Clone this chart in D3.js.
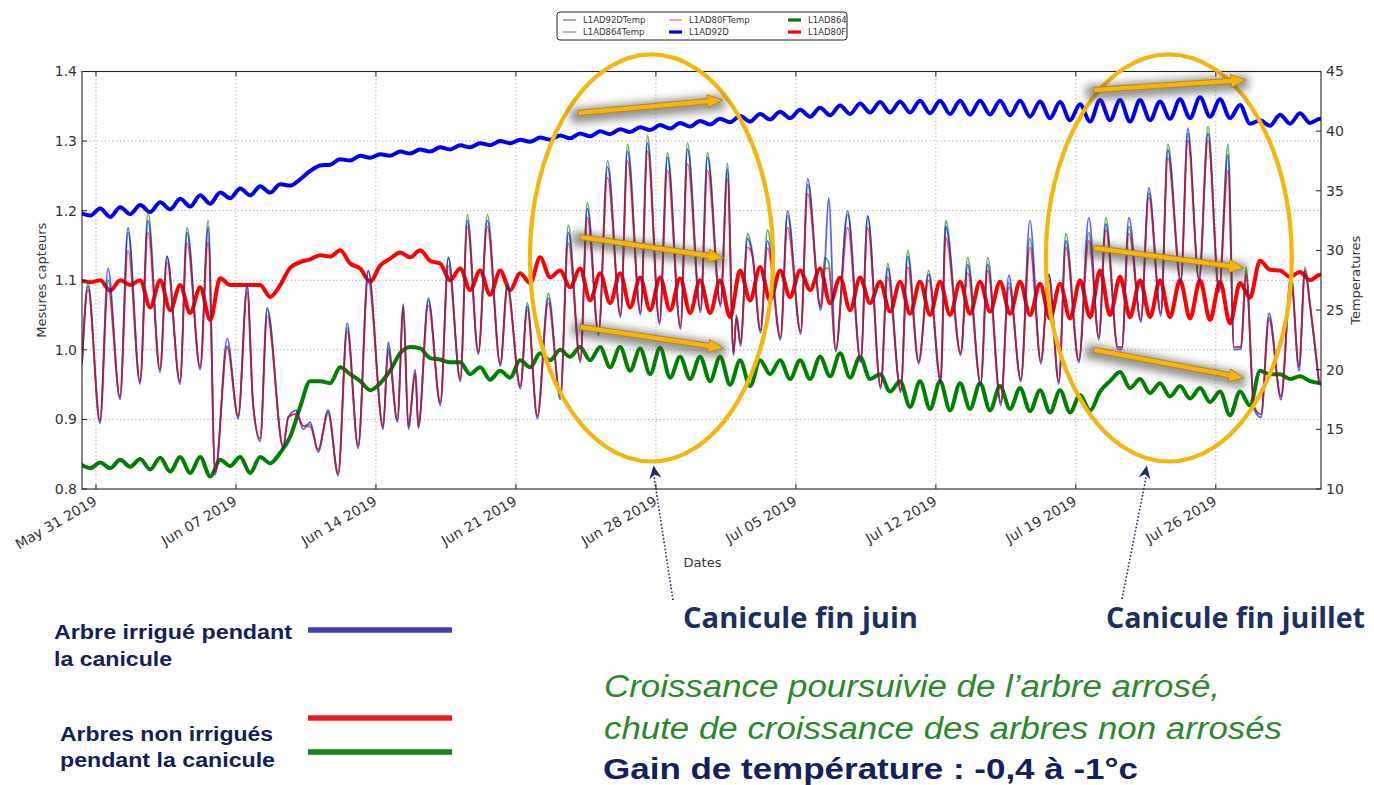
<!DOCTYPE html>
<html>
<head>
<meta charset="utf-8">
<script src="https://cdn.jsdelivr.net/npm/d3@7"></script>
<style>
  html, body { margin: 0; padding: 0; background: #fff; }
  svg { display: block; }
</style>
</head>
<body>
<svg id="chart" width="1374" height="785"></svg>
<script>
// ---------------------------------------------------------------------------
// Temperature loggers: sample times in days since 31 May 2019 00:00, and °C
// ---------------------------------------------------------------------------
const tempDay = [
  -0.70, -0.40, 0.20, 0.60, 1.20, 1.60, 2.20, 2.60, 3.20, 3.55,
  4.20, 4.55, 5.21, 5.61, 5.96, 6.56, 7.11, 7.56, 7.86, 8.21,
  8.56, 9.36, 9.61, 10.01, 10.36, 10.71, 11.11, 11.61, 12.11, 12.56,
  13.11, 13.61, 14.36, 14.61, 15.07, 15.37, 15.62, 15.97, 16.12, 16.62,
  17.22, 17.62, 18.22, 18.57, 19.12, 19.57, 20.22, 20.57, 21.22, 21.57,
  22.07, 22.62, 23.22, 23.62, 24.22, 24.57, 25.13, 25.58, 26.23, 26.58,
  27.23, 27.58, 28.18, 28.58, 29.23, 29.58, 30.23, 30.58, 31.23, 31.58,
  31.88, 32.03, 32.23, 32.58, 32.83, 33.23, 33.58, 34.23, 34.58, 35.24,
  35.59, 36.24, 36.44, 36.64, 36.99, 37.59, 38.24, 38.59, 39.24, 39.59,
  40.24, 40.59, 41.14, 41.64, 42.24, 42.49, 43.24, 43.59, 44.24, 44.59,
  45.25, 45.65, 46.25, 46.70, 47.25, 47.65, 48.15, 48.50, 49.15, 49.65,
  50.15, 50.50, 51.10, 51.30, 51.65, 52.25, 52.65, 53.25, 53.60, 54.25,
  54.60, 55.16, 55.61, 56.16, 56.61, 56.91, 57.26, 57.51, 57.91, 58.26,
  58.66, 59.26, 59.76, 60.16, 60.46, 60.71, 61.16
];
const tempL1AD80F = [
  20.5, 26.7, 15.7, 26.9, 17.7, 30.0, 19.0, 31.5, 20.0, 29.0,
  19.0, 30.6, 20.2, 30.7, 11.4, 21.9, 16.1, 26.5, 17.0, 14.2,
  24.5, 13.6, 16.0, 16.3, 15.3, 15.2, 13.3, 16.3, 11.3, 23.2,
  13.6, 27.5, 15.25, 21.5, 15.8, 25.0, 15.25, 19.7, 15.25, 25.4,
  17.25, 28.7, 19.2, 32.0, 21.5, 32.0, 20.5, 26.7, 18.6, 25.0,
  16.1, 25.6, 17.75, 30.6, 20.8, 32.75, 23.1, 36.1, 24.6, 37.5,
  24.8, 38.3, 24.0, 36.7, 23.6, 37.25, 25.0, 36.7, 25.5, 36.0,
  21.4, 24.4, 22.25, 30.25, 29.5, 23.3, 30.2, 22.7, 31.9, 23.2,
  34.75, 25.25, 28.5, 28.5, 21.7, 31.9, 20.8, 31.9, 18.6, 27.75,
  18.3, 28.6, 20.7, 27.5, 19.2, 31.1, 21.4, 28.1, 18.9, 28.3,
  17.25, 26.9, 19.2, 30.25, 20.7, 27.5, 19.0, 30.25, 20.8, 30.8,
  22.75, 31.7, 21.9, 21.9, 31.4, 24.2, 34.4, 24.75, 37.75, 27.5,
  39.2, 27.6, 39.2, 26.7, 36.7, 21.9, 21.9, 28.2, 16.9, 16.25,
  24.2, 17.75, 27.5, 20.25, 28.3, 25.5, 19.0
];
const tempL1AD92D = [
  20.5, 27.0, 15.5, 28.5, 17.5, 31.9, 18.8, 32.5, 19.8, 29.5,
  18.8, 31.5, 20.0, 31.9, 11.2, 22.6, 15.9, 27.0, 17.0, 14.0,
  25.2, 13.4, 16.0, 16.6, 15.0, 15.6, 13.1, 16.6, 11.1, 23.9,
  13.4, 28.3, 15.0, 22.3, 15.6, 25.5, 15.0, 20.0, 15.1, 26.0,
  17.0, 29.4, 19.0, 32.5, 21.3, 32.5, 20.3, 27.0, 18.4, 25.3,
  15.9, 26.0, 17.5, 31.5, 20.6, 33.5, 22.9, 37.0, 24.4, 38.3,
  24.6, 39.0, 23.8, 37.8, 23.4, 38.5, 24.8, 37.8, 25.3, 36.8,
  21.2, 24.4, 22.0, 31.0, 29.5, 23.1, 30.8, 22.5, 33.3, 23.0,
  36.0, 25.0, 28.5, 34.4, 21.5, 33.3, 20.6, 32.9, 18.4, 28.5,
  18.1, 29.5, 20.5, 28.0, 18.9, 32.0, 21.2, 28.8, 18.7, 28.8,
  17.0, 27.9, 19.0, 32.5, 20.5, 28.0, 18.8, 30.8, 20.6, 32.75,
  22.5, 32.2, 21.7, 21.7, 32.75, 24.0, 35.25, 24.5, 38.4, 27.3,
  40.25, 27.4, 39.8, 26.5, 38.0, 21.7, 21.7, 28.0, 16.7, 16.0,
  24.75, 17.5, 27.8, 19.9, 28.3, 25.3, 18.8
];
const tempL1AD864 = [
  20.5, 27.3, 15.7, 27.5, 17.7, 31.5, 19.0, 33.2, 20.0, 29.5,
  19.0, 31.9, 20.2, 32.5, 11.4, 22.0, 16.1, 27.0, 17.0, 14.2,
  25.0, 13.6, 16.0, 16.3, 15.3, 15.4, 13.3, 16.5, 11.3, 23.5,
  13.6, 28.3, 15.25, 21.8, 15.8, 25.3, 15.25, 19.7, 15.25, 25.8,
  17.25, 29.4, 19.2, 33.0, 21.5, 33.0, 20.5, 27.25, 18.6, 25.6,
  16.1, 26.4, 17.75, 32.1, 20.8, 34.0, 23.1, 37.5, 24.6, 38.9,
  24.8, 39.6, 24.0, 38.2, 23.6, 39.0, 25.0, 38.2, 25.5, 37.3,
  21.4, 24.6, 22.25, 31.4, 29.8, 23.3, 31.7, 22.7, 32.9, 23.2,
  35.5, 25.25, 29.4, 29.0, 21.7, 33.0, 20.8, 32.9, 18.6, 28.9,
  18.3, 30.0, 20.7, 28.3, 19.2, 32.5, 21.4, 29.4, 18.9, 29.4,
  17.25, 27.3, 19.2, 31.0, 20.7, 28.0, 19.0, 31.4, 20.8, 31.5,
  22.75, 32.75, 21.9, 21.9, 32.0, 24.2, 34.8, 24.75, 38.9, 27.5,
  39.8, 27.6, 40.4, 26.7, 38.9, 21.9, 21.9, 28.6, 16.9, 16.25,
  24.4, 17.75, 28.0, 20.25, 28.6, 25.5, 19.0
];

// ---------------------------------------------------------------------------
// Dendrometer readings, one early-morning (05:00) and one late-afternoon
// (17:00) value per day, from 30 May to 31 July 2019
// ---------------------------------------------------------------------------
const l1ad92dAm = [
  1.197, 1.203, 1.205, 1.208, 1.212, 1.217, 1.222, 1.226, 1.232, 1.235,
  1.238, 1.245, 1.265, 1.274, 1.279, 1.281, 1.285, 1.288, 1.291, 1.294,
  1.297, 1.300, 1.302, 1.305, 1.308, 1.311, 1.314, 1.317, 1.320, 1.323,
  1.326, 1.329, 1.332, 1.336, 1.339, 1.342, 1.345, 1.348, 1.351, 1.354,
  1.356, 1.357, 1.358, 1.358, 1.358, 1.358, 1.358, 1.358, 1.357, 1.356,
  1.353, 1.359, 1.359, 1.359, 1.357, 1.360, 1.363, 1.360, 1.352, 1.330,
  1.338, 1.340, 1.332
];
const l1ad92dPm = [
  1.193, 1.191, 1.195, 1.198, 1.202, 1.206, 1.210, 1.218, 1.222, 1.226,
  1.236, 1.257, 1.266, 1.272, 1.276, 1.279, 1.282, 1.285, 1.288, 1.291,
  1.294, 1.297, 1.299, 1.302, 1.304, 1.307, 1.310, 1.313, 1.316, 1.318,
  1.321, 1.324, 1.327, 1.328, 1.331, 1.333, 1.335, 1.337, 1.339, 1.341,
  1.341, 1.341, 1.340, 1.339, 1.338, 1.338, 1.337, 1.335, 1.333, 1.330,
  1.328, 1.330, 1.328, 1.330, 1.332, 1.333, 1.335, 1.333, 1.325, 1.322,
  1.325, 1.326, 1.328
];
const l1ad80fAm = [
  1.100, 1.100, 1.100, 1.100, 1.100, 1.093, 1.090, 1.103, 1.093, 1.093,
  1.093, 1.126, 1.136, 1.143, 1.117, 1.121, 1.140, 1.143, 1.124, 1.117,
  1.114, 1.114, 1.110, 1.133, 1.114, 1.117, 1.110, 1.110, 1.104, 1.104,
  1.103, 1.100, 1.100, 1.114, 1.119, 1.114, 1.114, 1.117, 1.104, 1.104,
  1.098, 1.098, 1.098, 1.098, 1.098, 1.098, 1.098, 1.098, 1.095, 1.095,
  1.100, 1.114, 1.105, 1.100, 1.100, 1.100, 1.100, 1.098, 1.096, 1.128,
  1.114, 1.112, 1.108
];
const l1ad80fPm = [
  1.097, 1.085, 1.093, 1.061, 1.057, 1.053, 1.043, 1.093, 1.093, 1.076,
  1.118, 1.130, 1.134, 1.124, 1.098, 1.131, 1.133, 1.128, 1.100, 1.086,
  1.079, 1.086, 1.096, 1.104, 1.090, 1.071, 1.067, 1.061, 1.057, 1.057,
  1.053, 1.053, 1.047, 1.071, 1.071, 1.076, 1.086, 1.067, 1.057, 1.067,
  1.055, 1.052, 1.050, 1.050, 1.052, 1.055, 1.052, 1.050, 1.045, 1.045,
  1.047, 1.050, 1.047, 1.047, 1.047, 1.045, 1.043, 1.038, 1.075, 1.115,
  1.105, 1.100, 1.105
];
const l1ad864Am = [
  0.836, 0.838, 0.842, 0.843, 0.845, 0.846, 0.846, 0.842, 0.846, 0.846,
  0.852, 0.918, 0.955, 0.975, 0.955, 0.952, 0.995, 1.002, 0.986, 0.982,
  0.975, 0.970, 0.985, 0.995, 1.000, 1.004, 1.004, 1.004, 1.002, 1.003,
  0.990, 0.990, 0.990, 0.985, 0.985, 0.985, 0.985, 0.990, 0.995, 0.990,
  0.965, 0.955, 0.955, 0.955, 0.952, 0.952, 0.948, 0.945, 0.942, 0.942,
  0.935, 0.940, 0.968, 0.958, 0.952, 0.948, 0.945, 0.940, 0.940, 0.970,
  0.965, 0.962, 0.952
];
const l1ad864Pm = [
  0.830, 0.830, 0.832, 0.828, 0.825, 0.823, 0.818, 0.833, 0.823, 0.837,
  0.875, 0.955, 0.952, 0.965, 0.942, 0.970, 1.004, 0.988, 0.982, 0.965,
  0.957, 0.960, 0.975, 0.985, 0.990, 0.985, 0.975, 0.970, 0.965, 0.960,
  0.958, 0.955, 0.950, 0.948, 0.965, 0.958, 0.958, 0.962, 0.960, 0.958,
  0.940, 0.918, 0.915, 0.913, 0.915, 0.913, 0.915, 0.912, 0.910, 0.910,
  0.913, 0.955, 0.945, 0.938, 0.933, 0.930, 0.925, 0.906, 0.920, 0.965,
  0.958, 0.955, 0.950
];

// Axis ticks
const dateTickDays = [0, 7, 14, 21, 28, 35, 42, 49, 56];
const leftTicks = [0.8, 0.9, 1.0, 1.1, 1.2, 1.3, 1.4];
const rightTicks = [10, 15, 20, 25, 30, 35, 40, 45];

// Legend entries (top box, three columns of two)
const legendEntries = [
  { name: "L1AD92DTemp", color: "#0000ff", thin: true },
  { name: "L1AD864Temp", color: "#008000", thin: true },
  { name: "L1AD80FTemp", color: "#ff0000", thin: true },
  { name: "L1AD92D", color: "#0000ff", thin: false },
  { name: "L1AD864", color: "#008000", thin: false },
  { name: "L1AD80F", color: "#ff0000", thin: false }
];

// Heat-wave highlights (centre in days since 31 May, centre in sensor units)
const heatwaves = [
  { label: "Canicule fin juin", dayMid: 27.78, dayHalf: 6.08, valMid: 1.132, valHalf: 0.2925 },
  { label: "Canicule fin juillet", dayMid: 53.65, dayHalf: 6.15, valMid: 1.132, valHalf: 0.2925 }
];
// Trend arrows: [startDay, startValue, endDay, endValue]
const trendArrows = [
  [24.12, 1.3404, 31.33, 1.3591],
  [24.22, 1.1622, 31.38, 1.1320],
  [24.22, 1.0328, 31.38, 1.0026],
  [49.90, 1.3734, 57.51, 1.3878],
  [49.90, 1.1464, 57.41, 1.1176],
  [49.90, 1.0000, 57.41, 0.9595]
];

// ---------------------------------------------------------------------------
const svg = d3.select("#chart");
const plot = { left: 82, right: 1321, top: 71.5, bottom: 489 };
const origin = new Date(2019, 4, 31);
const DAY = 864e5;
const at = d => new Date(origin.getTime() + d * DAY);

const x = d3.scaleTime().domain([at(-0.70), at(61.26)]).range([plot.left, plot.right]);
const yL = d3.scaleLinear().domain([0.8, 1.4]).range([plot.bottom, plot.top]);
const yR = d3.scaleLinear().domain([10, 45]).range([plot.bottom, plot.top]);

const defs = svg.append("defs");
defs.append("clipPath").attr("id", "plotClip")
  .append("rect")
  .attr("x", plot.left).attr("y", plot.top)
  .attr("width", plot.right - plot.left).attr("height", plot.bottom - plot.top);
const soft = defs.append("filter").attr("id", "soft")
  .attr("x", "-30%").attr("y", "-200%").attr("width", "160%").attr("height", "500%");
soft.append("feGaussianBlur").attr("stdDeviation", 4);

const tickFont = "DejaVu Sans, sans-serif";

// Grid
const grid = svg.append("g").attr("stroke", "#8a8a8a").attr("stroke-width", 0.8)
  .attr("stroke-dasharray", "1.2,2.6");
grid.selectAll("line.v").data(dateTickDays).join("line")
  .attr("x1", d => x(at(d))).attr("x2", d => x(at(d)))
  .attr("y1", plot.top).attr("y2", plot.bottom);
grid.selectAll("line.h").data(leftTicks.slice(1, -1)).join("line")
  .attr("x1", plot.left).attr("x2", plot.right)
  .attr("y1", d => yL(d)).attr("y2", d => yL(d));

// Series
function sensorPoints(am, pm) {
  const pts = [];
  am.forEach((v, j) => {
    pts.push({ t: at(j - 1 + 0.21), v: v });
    pts.push({ t: at(j - 1 + 0.71), v: pm[j] });
  });
  return pts;
}
const tempPoints = vals => tempDay.map((d, i) => ({ t: at(d), v: vals[i] }));

const lineL = d3.line().x(p => x(p.t)).y(p => yL(p.v)).curve(d3.curveMonotoneX);
const lineR = d3.line().x(p => x(p.t)).y(p => yR(p.v)).curve(d3.curveMonotoneX);

const series = svg.append("g").attr("clip-path", "url(#plotClip)")
  .attr("fill", "none").attr("stroke-linejoin", "round").attr("stroke-linecap", "round");

[[l1ad92dAm, l1ad92dPm, "#0000f0"],
 [l1ad864Am, l1ad864Pm, "#008000"],
 [l1ad80fAm, l1ad80fPm, "#ff0000"]].forEach(([am, pm, c]) => {
  series.append("path").attr("d", lineL(sensorPoints(am, pm)))
    .attr("stroke", c).attr("stroke-width", 4);
});

// Temperature traces are semi-transparent and overlap almost everywhere
[[tempL1AD864, "#008000"], [tempL1AD92D, "#0000ff"], [tempL1AD80F, "#ff0000"]].forEach(([vals, c]) => {
  series.append("path").attr("d", lineR(tempPoints(vals)))
    .attr("stroke", c).attr("stroke-width", 1.8).attr("stroke-opacity", 0.62);
});

// Frame
svg.append("rect").attr("x", plot.left).attr("y", plot.top)
  .attr("width", plot.right - plot.left).attr("height", plot.bottom - plot.top)
  .attr("fill", "none").attr("stroke", "#222").attr("stroke-width", 1.1);

// Axes: inward ticks, labels outside
const ticks = svg.append("g").attr("stroke", "#222").attr("stroke-width", 1);
dateTickDays.forEach(d => {
  const px = x(at(d));
  ticks.append("line").attr("x1", px).attr("x2", px).attr("y1", plot.bottom).attr("y2", plot.bottom - 5);
  ticks.append("line").attr("x1", px).attr("x2", px).attr("y1", plot.top).attr("y2", plot.top + 5);
});
leftTicks.forEach(v => ticks.append("line").attr("x1", plot.left).attr("x2", plot.left + 5)
  .attr("y1", yL(v)).attr("y2", yL(v)));
rightTicks.forEach(v => ticks.append("line").attr("x1", plot.right).attr("x2", plot.right - 5)
  .attr("y1", yR(v)).attr("y2", yR(v)));

const fmtDate = d3.timeFormat("%b %d %Y");
svg.append("g").selectAll("text").data(dateTickDays).join("text")
  .attr("transform", d => `translate(${x(at(d)) + 2},${plot.bottom + 15}) rotate(-30)`)
  .attr("text-anchor", "end")
  .attr("font-family", tickFont).attr("font-size", 14).attr("fill", "#333")
  .text(d => fmtDate(at(d)));

svg.append("g").selectAll("text").data(leftTicks).join("text")
  .attr("x", plot.left - 5).attr("y", d => yL(d)).attr("dy", "0.35em")
  .attr("text-anchor", "end")
  .attr("font-family", tickFont).attr("font-size", 14).attr("fill", "#333")
  .text(d => d3.format(".1f")(d));

svg.append("g").selectAll("text").data(rightTicks).join("text")
  .attr("x", plot.right + 5).attr("y", d => yR(d)).attr("dy", "0.35em")
  .attr("text-anchor", "start")
  .attr("font-family", tickFont).attr("font-size", 14).attr("fill", "#333")
  .text(d => d);

svg.append("text").attr("x", (plot.left + plot.right) / 2 + 1).attr("y", 567)
  .attr("text-anchor", "middle").attr("font-family", tickFont).attr("font-size", 13).attr("fill", "#333")
  .text("Dates");
svg.append("text").attr("transform", `translate(46,${(plot.top + plot.bottom) / 2}) rotate(-90)`)
  .attr("text-anchor", "middle").attr("font-family", tickFont).attr("font-size", 13).attr("fill", "#333")
  .text("Mesures capteurs");
svg.append("text").attr("transform", `translate(1360,${(plot.top + plot.bottom) / 2}) rotate(-90)`)
  .attr("text-anchor", "middle").attr("font-family", tickFont).attr("font-size", 13).attr("fill", "#333")
  .text("Temperatures");

// Top legend box
const lg = svg.append("g").attr("transform", "translate(557,12)");
lg.append("rect").attr("width", 290).attr("height", 28).attr("rx", 3)
  .attr("fill", "#fff").attr("stroke", "#222").attr("stroke-width", 1);
legendEntries.forEach((e, i) => {
  const col = Math.floor(i / 2), row = i % 2;
  const colX = [6, 112, 231][col];
  const g = lg.append("g").attr("transform", `translate(${colX},${row === 0 ? 8 : 20})`);
  g.append("line").attr("x1", 0).attr("x2", 13).attr("y1", 0).attr("y2", 0)
    .attr("stroke", e.color)
    .attr("stroke-width", e.thin ? 1.5 : 3.2)
    .attr("stroke-opacity", e.thin ? 0.5 : 1);
  g.append("text").attr("x", 20).attr("y", 0).attr("dy", "0.35em")
    .attr("font-family", tickFont).attr("font-size", 8.5).attr("fill", "#333")
    .text(e.name);
});

// Heat-wave ellipses
const notes = svg.append("g");
heatwaves.forEach(h => {
  const cx = x(at(h.dayMid));
  const rx = x(at(h.dayMid + h.dayHalf)) - cx;
  const cy = yL(h.valMid);
  const ry = yL(h.valMid - h.valHalf) - cy;
  notes.append("ellipse").attr("cx", cx).attr("cy", cy).attr("rx", rx).attr("ry", ry)
    .attr("fill", "none").attr("stroke", "#f6b50c").attr("stroke-width", 4.2);
});

// Trend arrows with soft shadow
trendArrows.forEach(([d1, v1, d2, v2]) => {
  const x1 = x(at(d1)), y1 = yL(v1), x2 = x(at(d2)), y2 = yL(v2);
  const ang = Math.atan2(y2 - y1, x2 - x1) * 180 / Math.PI;
  const len = Math.hypot(x2 - x1, y2 - y1);
  const a = notes.append("g").attr("transform", `translate(${x1},${y1}) rotate(${ang})`);
  a.append("rect").attr("x", -8).attr("y", -5).attr("width", len + 10).attr("height", 15)
    .attr("fill", "#4a4a4a").attr("opacity", 0.6).attr("filter", "url(#soft)");
  const hl = 15, hw = 6.5, sw = 2.6;
  a.append("path")
    .attr("d", `M0,${-sw} L${len - hl},${-sw} L${len - hl},${-hw} L${len},0 L${len - hl},${hw} L${len - hl},${sw} L0,${sw} Z`)
    .attr("fill", "#f3b414").attr("stroke", "#b98700").attr("stroke-width", 0.9);
});

// Captions under the chart, with dotted pointers up to each ellipse
const navy = "#1b2f60";
const captionPos = [{ x: 683, len: 235, foot: [673, 600] }, { x: 1106, len: 259, foot: [1122, 599] }];
heatwaves.forEach((h, i) => {
  const c = captionPos[i];
  notes.append("text").attr("x", c.x).attr("y", 628)
    .attr("font-family", "Open Sans, sans-serif").attr("font-weight", 700).attr("font-size", 28)
    .attr("fill", navy).attr("textLength", c.len).attr("lengthAdjust", "spacingAndGlyphs")
    .text(h.label);
  const tipX = x(at(h.dayMid)) + (i === 0 ? 2 : -22);
  const tipY = yL(h.valMid - h.valHalf) + 4;
  const [fx, fy] = c.foot;
  notes.append("line").attr("x1", fx).attr("y1", fy).attr("x2", tipX).attr("y2", tipY + 8)
    .attr("stroke", navy).attr("stroke-width", 1.6).attr("stroke-dasharray", "1.6,2");
  const ang = Math.atan2(tipY - fy, tipX - fx) * 180 / Math.PI;
  notes.append("path").attr("transform", `translate(${tipX},${tipY}) rotate(${ang})`)
    .attr("d", "M0,0 L-13,-6 L-9,0 L-13,6 Z").attr("fill", navy);
});

// Line key, lower left
const keyText = "#13205e";
const key = svg.append("g").attr("font-family", "Liberation Sans, Arial, sans-serif")
  .attr("font-weight", 700).attr("font-size", 20).attr("fill", keyText);
[["Arbre irrigué pendant", 54, 639, 238], ["la canicule", 54, 666, 118],
 ["Arbres non irrigués", 60, 741, 213], ["pendant la canicule", 60, 767, 215]].forEach(([t, tx, ty, tl]) => {
  key.append("text").attr("x", tx).attr("y", ty)
    .attr("textLength", tl).attr("lengthAdjust", "spacingAndGlyphs").text(t);
});
[["#3d3db4", 630], ["#ee1c1c", 718], ["#1e7d1e", 752]].forEach(([c, ky]) => {
  key.append("line").attr("x1", 308).attr("x2", 452).attr("y1", ky).attr("y2", ky)
    .attr("stroke", c).attr("stroke-width", 5.5);
});

// Summary text
const summary = svg.append("g").attr("font-family", "Liberation Sans, Arial, sans-serif");
summary.append("text").attr("x", 604).attr("y", 697)
  .attr("font-style", "italic").attr("font-size", 31).attr("fill", "#2a8a2a")
  .attr("textLength", 616).attr("lengthAdjust", "spacingAndGlyphs")
  .text("Croissance poursuivie de l’arbre arrosé,");
summary.append("text").attr("x", 604).attr("y", 739)
  .attr("font-style", "italic").attr("font-size", 31).attr("fill", "#2a8a2a")
  .attr("textLength", 678).attr("lengthAdjust", "spacingAndGlyphs")
  .text("chute de croissance des arbres non arrosés");
summary.append("text").attr("x", 603).attr("y", 779)
  .attr("font-weight", 700).attr("font-size", 29).attr("fill", keyText)
  .attr("textLength", 535).attr("lengthAdjust", "spacingAndGlyphs")
  .text("Gain de température : -0,4 à -1°c");
</script>
</body>
</html>
